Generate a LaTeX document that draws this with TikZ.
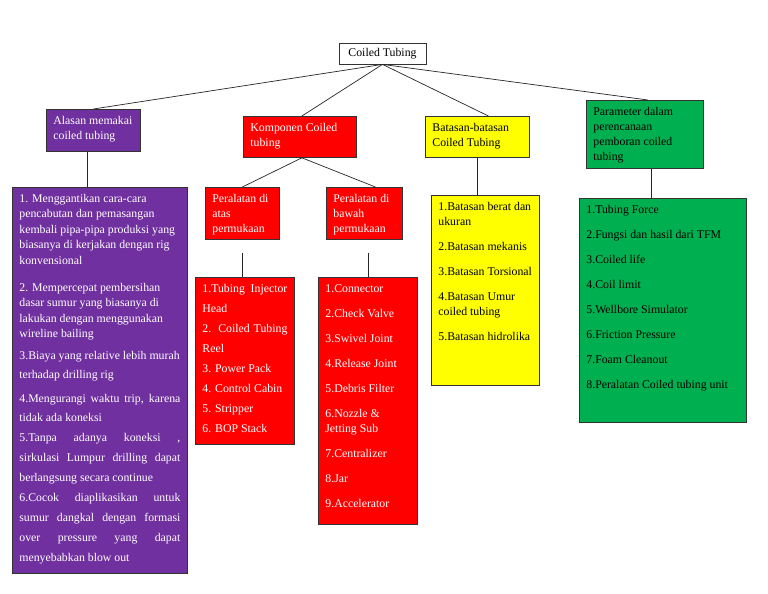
\documentclass[tikz,border=0pt]{standalone}
\usepackage{fontspec}
\setmainfont{Liberation Serif}
\usepackage{tikz}

\definecolor{ungu}{HTML}{7030A0}
\definecolor{merah}{HTML}{FF0000}
\definecolor{kuning}{HTML}{FFFF00}
\definecolor{hijau}{HTML}{00B050}

% isi kotak : [jarak baris]{lebar}{tinggi}{teks}
\newcommand{\isi}[4][15pt]{\parbox[t][#3][t]{#2}{\fontsize{11.8}{#1}\selectfont
  \rightskip=0pt minus 30pt\rule{0pt}{14.8pt}#4}}
% baris rata kiri-kanan
\newcommand{\rata}[1]{\makebox[\linewidth][s]{#1}}

\tikzset{kotak/.style={draw=black!80,line width=0.8pt,anchor=north west,
    inner xsep=7pt,inner ysep=0pt},
  garis/.style={draw=black!85,line width=0.7pt}}

\begin{document}
\begin{tikzpicture}[x=1pt,y=-1pt]
         \fill[white] (0,0) rectangle (768,594) ;
         \useasboundingbox (0,0) rectangle (768,594) ;
         % puncak
         \node[draw=black!80,line width=0.8pt,fill=white,inner sep=0pt,
           minimum width=87pt,minimum height=21pt,
           font=\fontsize{11.8}{14}\selectfont] (coiled) at (382.5,53.5) {Coiled Tubing} ;
         % tingkat pertama
         \node[kotak,fill=ungu,text=white] (alasan) at (46,109)
           {\isi{80pt}{42pt}{Alasan memakai\\ coiled tubing}} ;
         \node[kotak,fill=merah,text=white] (komponen) at (243,116)
           {\isi{99pt}{41pt}{Komponen Coiled\\ tubing}} ;
         \node[kotak,fill=kuning] (batasan) at (425,116)
           {\isi{90pt}{41pt}{Batasan-batasan\\ Coiled Tubing}} ;
         \node[kotak,fill=hijau] (param) at (586,100)
           {\isi{103pt}{68pt}{Parameter dalam\\ perencanaan\\ pemboran coiled\\ tubing}} ;
         % peralatan
         \node[kotak,fill=merah,text=white] (atas) at (205,187)
           {\isi{60pt}{52pt}{Peralatan di\\ atas\\ permukaan}} ;
         \node[kotak,fill=merah,text=white] (bawah) at (326,187)
           {\isi{62pt}{52pt}{Peralatan di\\ bawah\\ permukaan}} ;
         % daftar
         \node[kotak,fill=ungu,text=white] (daftarAlasan) at (12,187)
           {\isi[15.5pt]{161pt}{386pt}{1. Menggantikan cara-cara\\
             pencabutan dan pemasangan\\
             kembali pipa-pipa produksi yang\\
             biasanya di kerjakan dengan rig\\
             konvensional\\[11.5pt]
             2. Mempercepat pembersihan\\
             dasar sumur yang biasanya di\\
             lakukan dengan menggunakan\\
             wireline bailing\\[6pt]
             3.Biaya yang relative lebih murah\\[3.5pt]
             terhadap drilling rig\\[8.5pt]
             \rata{4.Mengurangi waktu trip, karena}\\[3.5pt]
             tidak ada koneksi\\[4.5pt]
             \rata{5.Tanpa adanya koneksi ,}\\[4.5pt]
             \rata{sirkulasi Lumpur drilling dapat}\\[4.5pt]
             berlangsung secara continue\\[4.5pt]
             \rata{6.Cocok diaplikasikan untuk}\\[4.5pt]
             \rata{sumur dangkal dengan formasi}\\[4.5pt]
             \rata{over pressure yang dapat}\\[4.5pt]
             menyebabkan blow out}} ;
         \node[kotak,fill=merah,text=white] (daftarAtas) at (195,277)
           {\isi[20pt]{85pt}{167pt}{\rata{1.Tubing Injector}\\ Head\\
             \rata{2. Coiled Tubing}\\ Reel\\ 3. Power Pack\\
             4. Control Cabin\\ 5. Stripper\\ 6. BOP Stack}} ;
         \node[kotak,fill=merah,text=white] (daftarBawah) at (318,277)
           {\isi{85pt}{247pt}{1.Connector\\[10pt] 2.Check Valve\\[10pt]
             3.Swivel Joint\\[10pt] 4.Release Joint\\[10pt] 5.Debris Filter\\[10pt]
             6.Nozzle \&\\ Jetting Sub\\[10pt] 7.Centralizer\\[10pt]
             8.Jar\\[10pt] 9.Accelerator}} ;
         \node[kotak,fill=kuning] (daftarBatasan) at (431,195)
           {\isi{94pt}{190pt}{1.Batasan berat dan\\ ukuran\\[10pt]
             2.Batasan mekanis\\[10pt] 3.Batasan Torsional\\[10pt]
             4.Batasan Umur\\ coiled tubing\\[10pt] 5.Batasan hidrolika}} ;
         \node[kotak,fill=hijau] (daftarParameter) at (579,198)
           {\isi{153pt}{224pt}{1.Tubing Force\\[10pt]
             2.Fungsi dan hasil dari TFM\\[10pt] 3.Coiled life\\[10pt]
             4.Coil limit\\[10pt] 5.Wellbore Simulator\\[10pt]
             6.Friction Pressure\\[10pt] 7.Foam Cleanout\\[10pt]
             8.Peralatan Coiled tubing unit}} ;
         % garis penghubung
         \draw[garis] (coiled.south) -- (alasan.north) ;
         \draw[garis] (coiled.south) -- ([xshift=2pt]komponen.north) ;
         \draw[garis] (coiled.south) -- ([xshift=11pt]batasan.north) ;
         \draw[garis] (coiled.south) -- ([xshift=3pt]param.north) ;
         \draw[garis] ([xshift=-6pt]alasan.south) -- ([xshift=-6pt]alasan.south |- daftarAlasan.north) ;
         \draw[garis] ([xshift=2pt]komponen.south) -- (atas.north) ;
         \draw[garis] ([xshift=2pt]komponen.south) -- ([xshift=11pt]bawah.north) ;
         \draw[garis,shorten <=13pt] (atas.south) -- (atas.south |- daftarAtas.north) ;
         \draw[garis,shorten <=13pt] (bawah.south -| daftarBawah.north) -- (daftarBawah.north) ;
         \draw[garis] (batasan.south) -- (batasan.south |- daftarBatasan.north) ;
         \draw[garis] ([xshift=6pt]param.south) -- ([xshift=6pt]param.south |- daftarParameter.north) ;
      \end{tikzpicture}
\end{document}
